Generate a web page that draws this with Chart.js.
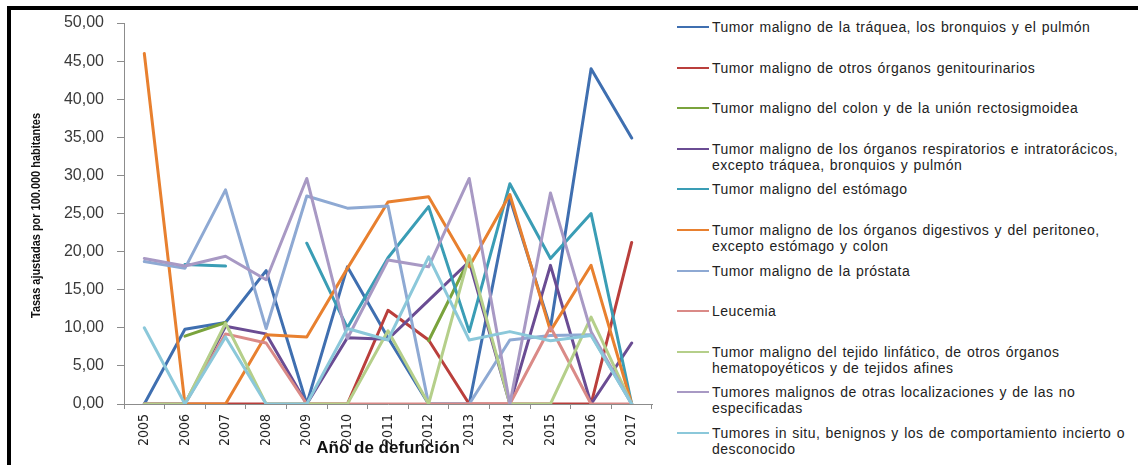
<!DOCTYPE html>
<html>
<head>
<meta charset="utf-8">
<script src="https://cdn.jsdelivr.net/npm/chart.js@4/dist/chart.umd.min.js"></script>
<style>
  body { margin: 0; background: #fff; }
  #wrap { position: relative; width: 1138px; height: 465px; overflow: hidden; background: #fff; }
  #frame { position: absolute; left: 7px; top: 6px; right: -10px; bottom: -10px;
           border-left: 4.5px solid #000; border-top: 4.5px solid #000; pointer-events: none; }
  #chartBox { position: absolute; left: 0; top: 0; width: 665px; height: 465px; }
  #legend { position: absolute; left: 677px; top: 0; font-family: 'Liberation Sans', Arial, sans-serif;
            font-size: 14px; letter-spacing: 0.45px; word-spacing: 1px; color: #222; }
  .item { position: absolute; left: 0; white-space: pre; line-height: 16px; padding-left: 35px; width: 460px; }
  .swatch { position: absolute; left: 0; top: 7px; width: 32px; height: 2px; }
</style>
</head>
<body>
<div id="wrap">
  <div id="chartBox"><canvas id="tumorChart" width="665" height="465"></canvas></div>
  <div id="legend"></div>
  <div id="frame"></div>
</div>
<script>
// Años de defunción
const years = ['2005', '2006', '2007', '2008', '2009', '2010', '2011', '2012', '2013', '2014', '2015', '2016', '2017'];

// Tasas ajustadas por 100.000 habitantes
const traqueaPulmon   = [0, 9.8, 10.7, 17.5, 0, 18.0, 8.7, 0, 0, 27.0, 10.0, 44.0, 34.9];
const genitourinarios = [0, 0, 0, 0, 0, 0, 12.3, 8.4, 0, 0, 0, 0, 21.2];
const colon           = [null, 8.9, 10.7, null, null, null, null, 8.3, 19.0, null, null, null, null];
const respiratorios   = [0, 0, 10.2, 9.2, 0, 8.7, 8.5, 13.6, 18.7, 0, 18.2, 0, 8.0];
const estomago        = [null, 18.3, 18.1, null, 21.1, 10.0, 19.2, 25.9, 9.5, 28.9, 19.1, 25.0, 0];
const digestivos      = [46.0, 0, 0, 9.1, 8.8, 17.8, 26.5, 27.2, 18.0, 27.5, 9.6, 18.2, 0];
const prostata        = [18.7, 17.8, 28.1, 9.9, 27.3, 25.7, 26.0, 0, 0, 8.4, 9.0, 9.1, 0];
const leucemia        = [0, 0, 9.2, 8.0, 0, 0, 0, 0, 0, 0, 10.1, 0, 0];
const linfatico       = [0, 0, 10.6, 0, 0, 0, 9.6, 0, 19.5, 0, 0, 11.4, 0];
const otras           = [19.1, 18.1, 19.4, 16.3, 29.6, 8.6, 18.9, 18.0, 29.6, 0, 27.7, 9.5, 0];
const inSitu          = [10.0, 0, 8.8, 0, 0, 9.9, 8.4, 19.3, 8.4, 9.5, 8.3, 9.0, 0];

const seriesNames = [
  'Tumor maligno de la tráquea, los bronquios y el pulmón',
  'Tumor maligno de otros órganos genitourinarios',
  'Tumor maligno del colon y de la unión rectosigmoidea',
  'Tumor maligno de los órganos respiratorios e intratorácicos,\nexcepto tráquea, bronquios y pulmón',
  'Tumor maligno del estómago',
  'Tumor maligno de los órganos digestivos y del peritoneo,\nexcepto estómago y colon',
  'Tumor maligno de la próstata',
  'Leucemia',
  'Tumor maligno del tejido linfático, de otros órganos\nhematopoyéticos y de tejidos afines',
  'Tumores malignos de otras localizaciones y de las no\nespecificadas',
  'Tumores in situ, benignos y los de comportamiento incierto o\ndesconocido'
];
const seriesValues = [traqueaPulmon, genitourinarios, colon, respiratorios, estomago, digestivos,
                      prostata, leucemia, linfatico, otras, inSitu];
const seriesColors = ['#3F6FB0', '#BA3F3C', '#7AA33C', '#6A4C93', '#3A9DB5', '#E8802F',
                      '#8EA9D3', '#DA8A87', '#B5CF8A', '#A899C4', '#8BC8DA'];

const yTitle = 'Tasas ajustadas por 100.000 habitantes';

const datasets = seriesNames.map((name, i) => ({
  label: name,
  data: seriesValues[i],
  borderColor: seriesColors[i],
  backgroundColor: seriesColors[i],
  borderWidth: 3,
  pointRadius: 0,
  tension: 0,
  spanGaps: false,
  borderJoinStyle: 'round',
  borderCapStyle: 'round',
  order: seriesNames.length - i   // last series drawn on top, like Excel
}));

// y title in a narrow bold face (no Arial Narrow available, so squeeze it)
const yTitlePlugin = {
  id: 'yTitleNarrow',
  afterDraw(chart) {
    const { ctx, chartArea } = chart;
    ctx.save();
    ctx.font = "bold 13px 'Liberation Sans', Arial, sans-serif";
    const w = ctx.measureText(yTitle).width;
    ctx.translate(36, (chartArea.top + chartArea.bottom) / 2 + 2);
    ctx.rotate(-Math.PI / 2);
    ctx.scale(205 / w, 1);
    ctx.fillStyle = '#111';
    ctx.textAlign = 'center';
    ctx.textBaseline = 'middle';
    ctx.fillText(yTitle, 0, 0);
    ctx.restore();
  }
};

const axisGrey = '#8C8C8C';
const ctx = document.getElementById('tumorChart').getContext('2d');

new Chart(ctx, {
  type: 'line',
  data: { labels: years, datasets: datasets },
  plugins: [yTitlePlugin],
  options: {
    responsive: false,
    animation: false,
    layout: { padding: { top: 23, right: 13, left: 0, bottom: 0 } },
    plugins: { legend: { display: false }, tooltip: { enabled: false } },
    scales: {
      x: {
        offset: true,
        grid: { offset: true, drawOnChartArea: false, drawTicks: true, tickLength: 5, color: axisGrey },
        border: { color: axisGrey, width: 1 },
        ticks: {
          maxRotation: 90, minRotation: 90, padding: 5, color: '#222',
          font: { family: "'Liberation Sans Narrow', 'DejaVu Sans Condensed', sans-serif", size: 14 }
        },
        title: {
          display: true, text: 'Año de defunción', color: '#111',
          font: { family: "'Liberation Sans', Arial, sans-serif", size: 17, weight: 'bold' },
          padding: { top: 0, bottom: 6 }
        },
        afterFit: s => { s.height = 61; }
      },
      y: {
        min: 0, max: 50,
        ticks: {
          stepSize: 5, padding: 13, color: '#3a3a3a',
          font: { family: "'Liberation Sans', Arial, sans-serif", size: 16 },
          callback: v => v.toFixed(2).replace('.', ',')
        },
        grid: { drawOnChartArea: false, drawTicks: true, tickLength: 7, color: axisGrey },
        border: { color: axisGrey, width: 1 },
        title: { display: false },
        afterFit: s => { s.width = 124; }
      }
    }
  }
});

// Leyenda a la derecha
const legend = document.getElementById('legend');
const rowTops = 19;
const rowStep = 40.6;
datasets.forEach((ds, i) => {
  const item = document.createElement('div');
  item.className = 'item';
  item.style.top = (rowTops + i * rowStep) + 'px';
  const sw = document.createElement('div');
  sw.className = 'swatch';
  sw.style.background = ds.borderColor;
  item.appendChild(sw);
  item.appendChild(document.createTextNode(ds.label));
  legend.appendChild(item);
});
</script>
</body>
</html>
